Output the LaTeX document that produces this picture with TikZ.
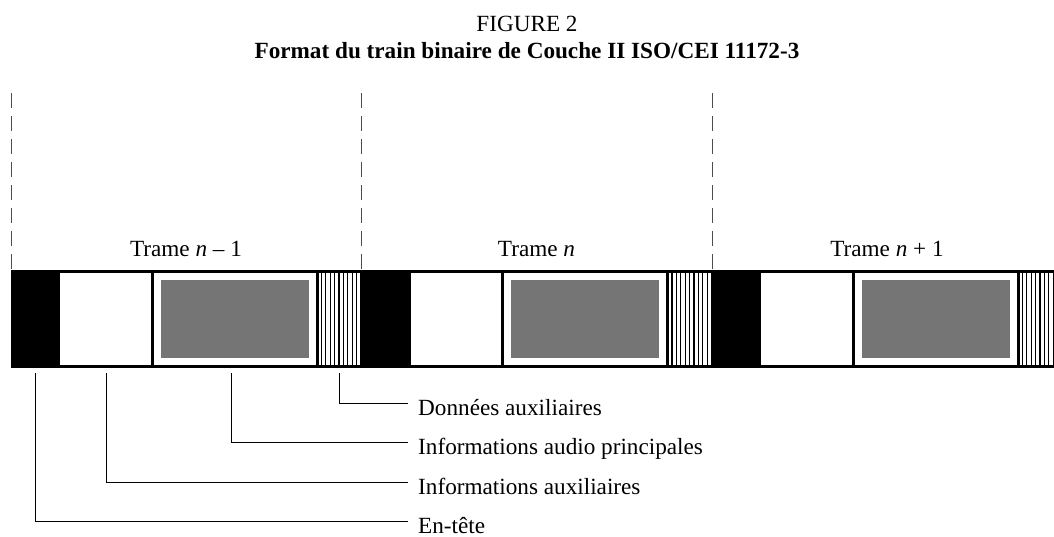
\documentclass[tikz,border=0pt]{standalone}
\usepackage{fontspec}
\setmainfont{Liberation Serif}
\usepackage{xcolor}
\usetikzlibrary{positioning}
\definecolor{gris}{HTML}{757575}

\begin{document}
\begin{tikzpicture}[x=1pt, y=-1pt, font=\fontsize{23.2}{28}\selectfont,
  bloc/.style={rectangle, inner sep=0pt, outer sep=0pt, minimum height=95pt, anchor=north west},
  bord/.style={line width=3pt},
  limite/.style={draw=black!70, line width=1pt, dash pattern=on 15pt off 8pt},
  renvoi/.style={line width=1pt},
  legende/.style={anchor=base west, inner xsep=10pt, inner ysep=0pt}]
  \useasboundingbox (0,0) rectangle (1054,536);
  \clip (0,0) rectangle (1054,536);

  \node[anchor=base] (figure) at (527, 31) {FIGURE 2};
  \node[anchor=base, font=\fontsize{23.2}{28}\selectfont\bfseries] (titre) at (527, 58) {Format du train binaire de Couche II ISO/CEI 11172-3};

  % trois trames
  \foreach \k/\etiq in {0/{Trame \textit{n}~–~1}, 1/{Trame \textit{n}}, 2/{Trame \textit{n}~+~1}} {
    \pgfmathsetmacro{\xo}{11+350.5*\k}
    \node[bloc, fill=black, minimum width=49pt] (entete-\k) at (\xo, 271) {};
    \node[bloc, minimum width=92pt, right=0pt of entete-\k] (infoaux-\k) {};
    \node[bloc, draw, bord, fill=white, minimum width=165pt, right=0pt of infoaux-\k] (audio-\k) {};
    \node[fill=gris, inner sep=0pt, minimum width=148pt, minimum height=78pt] (coeur-\k) at (audio-\k) {};
    \node[bloc, minimum width=45pt, right=0pt of audio-\k] (donnees-\k) {};
    \foreach \i in {1,...,10}
      \draw[line width=1.2pt] ([xshift=\i*4.4pt]audio-\k.north east) -- ([xshift=\i*4.4pt]audio-\k.south east);
    \node[anchor=base] (trame-\k) at (\xo+175, 256) {\etiq};
    \coordinate (haut-\k) at (\xo, 93);
    \draw[limite] (haut-\k) -- (entete-\k.north west);
  }

  \draw[bord] (entete-0.north west) -- (donnees-2.north east);
  \draw[bord] (entete-0.south west) -- (donnees-2.south east);

  % legendes
  \node[legende] (l-donnees) at (408, 415) {Données auxiliaires};
  \node[legende] (l-audio) at (408, 454) {Informations audio principales};
  \node[legende] (l-infoaux) at (408, 494) {Informations auxiliaires};
  \node[legende] (l-entete) at (408, 533) {En-tête};

  \coordinate (r-donnees) at ([yshift=-7pt]donnees-0.south);
  \coordinate (r-audio) at ([xshift=-3.5pt, yshift=-7pt]audio-0.south);
  \coordinate (r-infoaux) at ([yshift=-7pt]infoaux-0.south);
  \coordinate (r-entete) at ([yshift=-7pt]entete-0.south);

  \draw[renvoi] (r-donnees) |- ([yshift=12pt]l-donnees.base west);
  \draw[renvoi] (r-audio) |- ([yshift=12pt]l-audio.base west);
  \draw[renvoi] (r-infoaux) |- ([yshift=12pt]l-infoaux.base west);
  \draw[renvoi] (r-entete) |- ([yshift=12pt]l-entete.base west);
\end{tikzpicture}
\end{document}
